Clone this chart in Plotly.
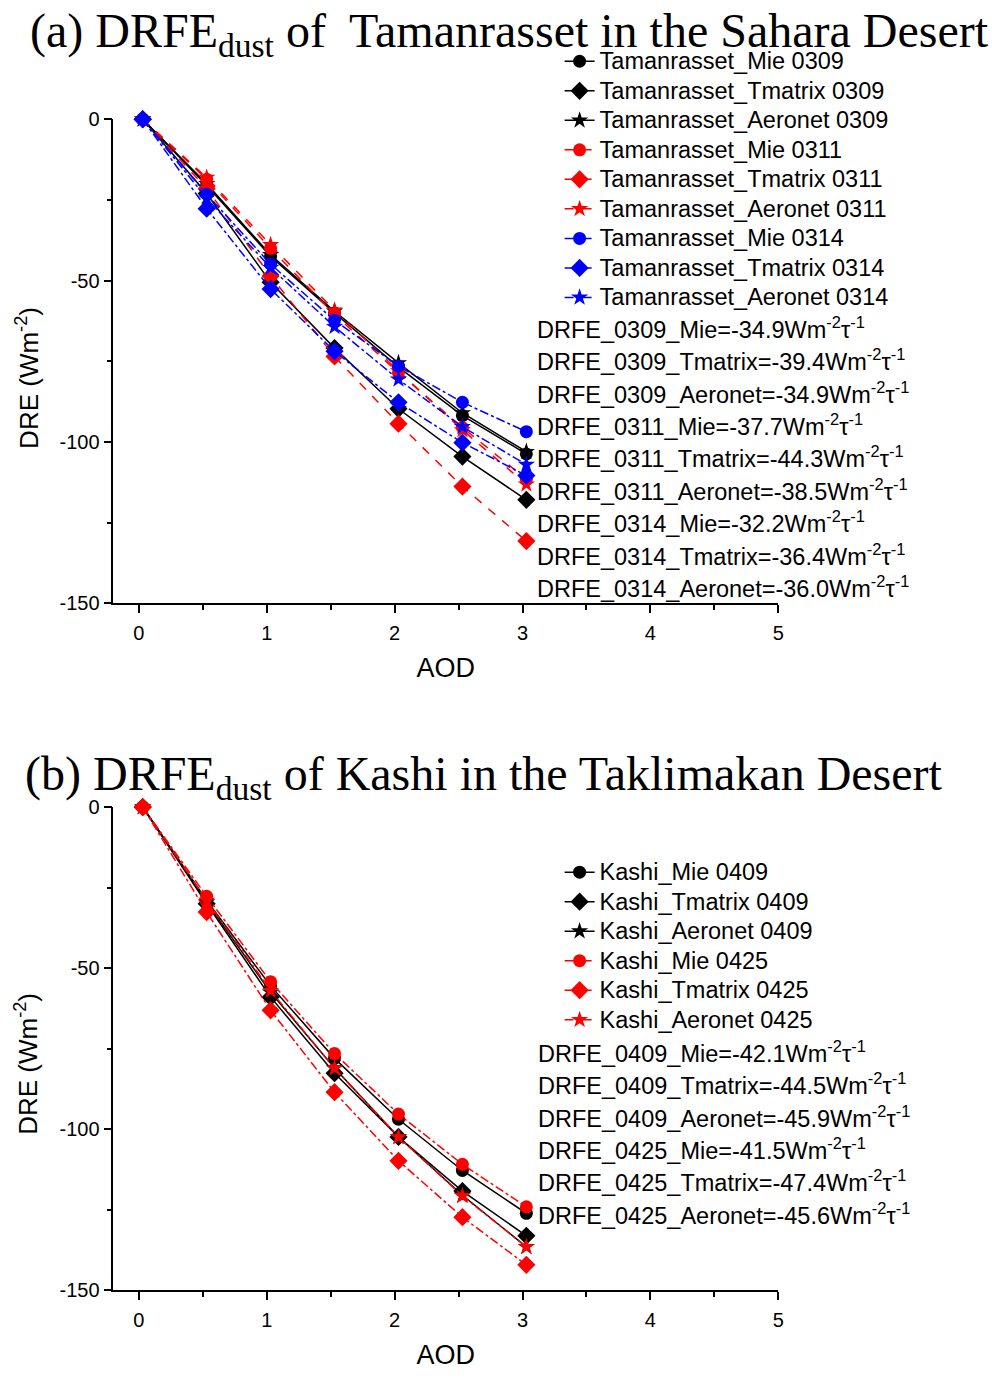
import plotly.graph_objects as go

# ---------------- data ----------------
aod = [0.03, 0.53, 1.03, 1.53, 2.03, 2.53, 3.03]

# Panel (a) Tamanrasset
tam_names = ["Tamanrasset_Mie 0309", "Tamanrasset_Tmatrix 0309", "Tamanrasset_Aeronet 0309",
             "Tamanrasset_Mie 0311", "Tamanrasset_Tmatrix 0311", "Tamanrasset_Aeronet 0311",
             "Tamanrasset_Mie 0314", "Tamanrasset_Tmatrix 0314", "Tamanrasset_Aeronet 0314"]
tam_mie_0309 = [0, -20.5, -42.5, -60.0, -76.8, -91.8, -103.7]
tam_tmx_0309 = [0, -23.0, -50.5, -70.9, -89.7, -104.5, -117.9]
tam_aer_0309 = [0, -20.0, -42.0, -59.5, -75.5, -91.0, -103.0]
tam_mie_0311 = [0, -18.6, -40.0, -60.5, -78.5, -95.5, -111.5]
tam_tmx_0311 = [0, -21.5, -48.6, -73.5, -94.3, -113.8, -130.7]
tam_aer_0311 = [0, -18.1, -38.9, -59.2, -78.0, -96.3, -113.1]
tam_mie_0314 = [0, -23.2, -44.9, -62.3, -76.5, -87.7, -96.8]
tam_tmx_0314 = [0, -27.7, -52.6, -71.9, -87.7, -100.2, -110.4]
tam_aer_0314 = [0, -24.5, -46.0, -64.3, -80.6, -95.3, -107.0]
tam_series = [tam_mie_0309, tam_tmx_0309, tam_aer_0309,
              tam_mie_0311, tam_tmx_0311, tam_aer_0311,
              tam_mie_0314, tam_tmx_0314, tam_aer_0314]
tam_drfe = ["DRFE_0309_Mie=-34.9", "DRFE_0309_Tmatrix=-39.4", "DRFE_0309_Aeronet=-34.9",
            "DRFE_0311_Mie=-37.7", "DRFE_0311_Tmatrix=-44.3", "DRFE_0311_Aeronet=-38.5",
            "DRFE_0314_Mie=-32.2", "DRFE_0314_Tmatrix=-36.4", "DRFE_0314_Aeronet=-36.0"]

# Panel (b) Kashi
kas_names = ["Kashi_Mie 0409", "Kashi_Tmatrix 0409", "Kashi_Aeronet 0409",
             "Kashi_Mie 0425", "Kashi_Tmatrix 0425", "Kashi_Aeronet 0425"]
kas_mie_0409 = [0, -29.0, -55.5, -78.0, -96.9, -112.8, -126.1]
kas_tmx_0409 = [0, -30.0, -59.0, -82.6, -102.4, -119.2, -133.1]
kas_aer_0409 = [0, -29.5, -57.5, -81.0, -102.4, -120.5, -136.5]
kas_mie_0425 = [0, -27.7, -54.2, -76.5, -95.3, -110.9, -124.1]
kas_tmx_0425 = [0, -32.6, -63.1, -88.5, -109.8, -127.3, -142.1]
kas_aer_0425 = [0, -29.0, -57.0, -81.1, -102.4, -120.7, -136.5]
kas_series = [kas_mie_0409, kas_tmx_0409, kas_aer_0409,
              kas_mie_0425, kas_tmx_0425, kas_aer_0425]
kas_drfe = ["DRFE_0409_Mie=-42.1", "DRFE_0409_Tmatrix=-44.5", "DRFE_0409_Aeronet=-45.9",
            "DRFE_0425_Mie=-41.5", "DRFE_0425_Tmatrix=-47.4", "DRFE_0425_Aeronet=-45.6"]

x_ticks = [0, 1, 2, 3, 4, 5]
x_tick_labels = ["0", "1", "2", "3", "4", "5"]
y_ticks = [0, -50, -100, -150]
y_tick_labels = ["0", "-50", "-100", "-150"]

# ---------------- styles ----------------
W, H = 992, 1381
symbols = ["circle", "diamond", "star"]
msizes = [13, 14, 13]
tam_styles = [("black", "solid"), ("red", "dash"), ("blue", "dashdot")]
kas_styles = [("black", "solid"), ("red", "dashdot")]

SANS = "Liberation Sans, Arial, sans-serif"
SERIF = "Liberation Serif, Times New Roman, serif"
LEG_TEXT = '<span style="font-size:23.5px">%s</span>'

def px_x(p):
    return p / W

def px_y(p):
    return 1 - p / H

fig = go.Figure()

for i, (name, ys) in enumerate(zip(tam_names, tam_series)):
    color, dash = tam_styles[i // 3]
    fig.add_trace(go.Scatter(
        x=aod, y=ys, name=LEG_TEXT % name, mode="lines+markers",
        line=dict(color=color, dash=dash, width=1.5),
        marker=dict(symbol=symbols[i % 3], size=msizes[i % 3], color=color),
        xaxis="x", yaxis="y", legend="legend", cliponaxis=False))

for i, (name, ys) in enumerate(zip(kas_names, kas_series)):
    color, dash = kas_styles[i // 3]
    fig.add_trace(go.Scatter(
        x=aod, y=ys, name=LEG_TEXT % name, mode="lines+markers",
        line=dict(color=color, dash=dash, width=1.5),
        marker=dict(symbol=symbols[i % 3], size=msizes[i % 3], color=color),
        xaxis="x2", yaxis="y2", legend="legend2", cliponaxis=False))

xdom = [px_x(114), px_x(783)]

def xaxis_cfg(anchor):
    return dict(domain=xdom, range=[-0.2, 5], anchor=anchor,
                tickvals=x_ticks, ticktext=x_tick_labels, ticks="outside", ticklen=8, tickwidth=1.5,
                ticklabelstandoff=3,
                minor=dict(dtick=0.5, tick0=0, ticks="outside", ticklen=5, tickwidth=1.5, tickcolor="black"),
                showline=True, linecolor="black", linewidth=1.5,
                showgrid=False, zeroline=False, tickcolor="black",
                tickfont=dict(family=SANS, size=20, color="black"),
                title=dict(text="AOD", font=dict(family=SANS, size=27, color="black"), standoff=15))

def yaxis_cfg(anchor, top, bottom):
    return dict(domain=[px_y(bottom), px_y(top)], range=[-150, 0], anchor=anchor,
                tickvals=y_ticks, ticktext=y_tick_labels, ticks="outside", ticklen=8, tickwidth=1.5,
                minor=dict(dtick=25, tick0=0, ticks="outside", ticklen=5, tickwidth=1.5, tickcolor="black"),
                showline=True, linecolor="black", linewidth=1.5,
                showgrid=False, zeroline=False, tickcolor="black",
                tickfont=dict(family=SANS, size=20, color="black"))

legend_common = dict(font=dict(family=SANS, size=20.4, color="black"),
                     bgcolor="rgba(0,0,0,0)", borderwidth=0,
                     xanchor="left", yanchor="top", tracegroupgap=0, itemwidth=30)

annotations = [
    dict(text="(a) DRFE<sub>dust</sub> of  Tamanrasset in the Sahara Desert",
         x=px_x(28), y=px_y(-9), xref="paper", yref="paper", xanchor="left", yanchor="top",
         showarrow=False, font=dict(family=SERIF, size=48, color="black")),
    dict(text="(b) DRFE<sub>dust</sub> of Kashi in the Taklimakan Desert",
         x=px_x(23), y=px_y(746), xref="paper", yref="paper", xanchor="left", yanchor="top",
         showarrow=False, font=dict(family=SERIF, size=48, color="black")),
    dict(text="DRE (Wm<sup>-2</sup>)", textangle=-90, x=px_x(27), y=px_y(373),
         xref="paper", yref="paper", xanchor="center", yanchor="middle",
         showarrow=False, font=dict(family=SANS, size=26, color="black")),
    dict(text="DRE (Wm<sup>-2</sup>)", textangle=-90, x=px_x(27), y=px_y(1070),
         xref="paper", yref="paper", xanchor="center", yanchor="middle",
         showarrow=False, font=dict(family=SANS, size=26, color="black")),
]
for k, t in enumerate(tam_drfe):
    annotations.append(dict(text=t + "Wm<sup>-2</sup>τ<sup>-1</sup>", x=px_x(538), y=px_y(322 + 32.9 * k),
                            xref="paper", yref="paper", xanchor="left", yanchor="middle",
                            showarrow=False, font=dict(family=SANS, size=23.5, color="black")))
for k, t in enumerate(kas_drfe):
    annotations.append(dict(text=t + "Wm<sup>-2</sup>τ<sup>-1</sup>", x=px_x(539), y=px_y(1058 + 32.8 * k),
                            xref="paper", yref="paper", xanchor="left", yanchor="middle",
                            showarrow=False, font=dict(family=SANS, size=23.5, color="black")))

fig.update_layout(
    width=W, height=H, margin=dict(l=0, r=0, t=0, b=0),
    paper_bgcolor="white", plot_bgcolor="white",
    xaxis=xaxis_cfg("y"), yaxis=yaxis_cfg("x", 110, 602),
    xaxis2=xaxis_cfg("y2"), yaxis2=yaxis_cfg("x2", 809, 1300),
    legend=dict(x=px_x(563), y=px_y(31), **legend_common),
    legend2=dict(x=px_x(563), y=px_y(855), **legend_common),
    annotations=annotations, showlegend=True,
)

fig.write_html("out.html")
